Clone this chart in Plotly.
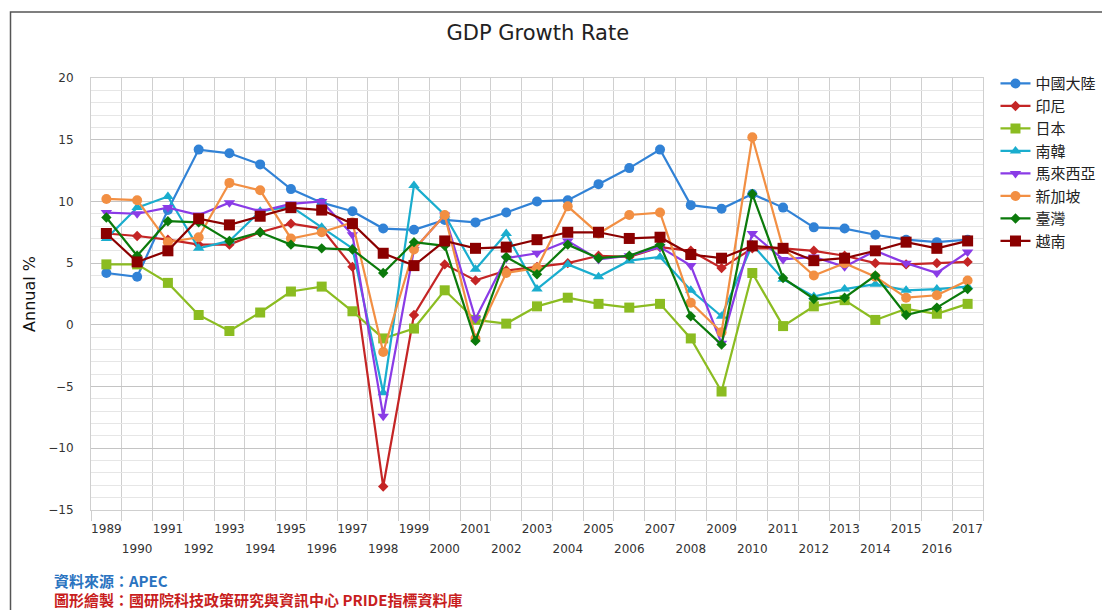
import plotly.graph_objects as go

years = list(range(1989, 2018))

china = [4.2, 3.9, 9.3, 14.2, 13.9, 13.0, 11.0, 9.9, 9.2, 7.8, 7.7, 8.5, 8.3, 9.1, 10.0, 10.1, 11.4, 12.7, 14.2, 9.7, 9.4, 10.6, 9.5, 7.9, 7.8, 7.3, 6.9, 6.7, 6.9]
indonesia = [7.4, 7.2, 6.9, 6.5, 6.5, 7.5, 8.2, 7.8, 4.7, -13.1, 0.8, 4.9, 3.6, 4.4, 4.7, 5.0, 5.6, 5.5, 6.3, 6.0, 4.6, 6.2, 6.2, 6.0, 5.6, 5.0, 4.9, 5.0, 5.1]
japan = [4.9, 4.9, 3.4, 0.8, -0.5, 1.0, 2.7, 3.1, 1.1, -1.1, -0.3, 2.8, 0.4, 0.1, 1.5, 2.2, 1.7, 1.4, 1.7, -1.1, -5.4, 4.2, -0.1, 1.5, 2.0, 0.4, 1.3, 0.9, 1.7]
korea = [7.0, 9.5, 10.4, 6.2, 6.8, 9.2, 9.6, 7.9, 6.2, -5.5, 11.3, 8.9, 4.5, 7.4, 2.9, 4.9, 3.9, 5.2, 5.5, 2.8, 0.7, 6.5, 3.7, 2.3, 2.9, 3.3, 2.8, 2.9, 3.1]
malaysia = [9.1, 9.0, 9.5, 8.9, 9.9, 9.2, 9.8, 10.0, 7.3, -7.4, 6.1, 8.9, 0.5, 5.4, 5.8, 6.8, 5.3, 5.6, 6.3, 4.8, -1.5, 7.4, 5.3, 5.5, 4.7, 6.0, 5.0, 4.2, 5.9]
singapore = [10.2, 10.1, 6.7, 7.1, 11.5, 10.9, 7.0, 7.5, 8.3, -2.2, 6.1, 8.9, -1.1, 4.2, 4.6, 9.6, 7.4, 8.9, 9.1, 1.8, -0.6, 15.2, 6.2, 4.0, 5.0, 3.9, 2.2, 2.4, 3.6]
taiwan = [8.7, 5.6, 8.4, 8.3, 6.8, 7.5, 6.5, 6.2, 6.1, 4.2, 6.7, 6.4, -1.3, 5.5, 4.1, 6.5, 5.4, 5.6, 6.5, 0.7, -1.6, 10.6, 3.8, 2.1, 2.2, 4.0, 0.8, 1.4, 2.9]
vietnam = [7.4, 5.1, 6.0, 8.6, 8.1, 8.8, 9.5, 9.3, 8.2, 5.8, 4.8, 6.8, 6.2, 6.3, 6.9, 7.5, 7.5, 7.0, 7.1, 5.7, 5.4, 6.4, 6.2, 5.2, 5.4, 6.0, 6.7, 6.2, 6.8]

series_names = ["中國大陸", "印尼", "日本", "南韓", "馬來西亞", "新加坡", "臺灣", "越南"]
series_values = [china, indonesia, japan, korea, malaysia, singapore, taiwan, vietnam]
series_colors = ["#3182d6", "#c42525", "#8bbc21", "#1aadce", "#8a3be6", "#f28f43", "#0b7a0b", "#8b0000"]
series_symbols = ["circle", "diamond", "square", "triangle-up", "triangle-down", "circle", "diamond", "square"]
series_sizes = [10, 8, 10, 10, 10, 10, 8, 11]

odd_years = [y for y in years if y % 2 == 1]
even_years = [y for y in years if y % 2 == 0]

fig = go.Figure()
for name, vals, col, sym, sz in zip(series_names, series_values, series_colors, series_symbols, series_sizes):
    fig.add_trace(go.Scatter(
        x=years, y=vals, name=name, mode="lines+markers",
        line=dict(color=col, width=2.2),
        marker=dict(color=col, symbol=sym, size=sz),
    ))

# invisible helper trace to host the second (even-year) label row
fig.add_trace(go.Scatter(x=[], y=[], xaxis="x2", showlegend=False, hoverinfo="skip"))

label_font = dict(family="DejaVu Sans", size=12, color="#333333")
grid_c = "#cfcfcf"

fig.update_layout(
    width=1102, height=610,
    margin=dict(l=91, r=119, t=78, b=100, autoexpand=False),
    paper_bgcolor="white", plot_bgcolor="white",
    title=dict(text="GDP Growth Rate", x=0.488, xref="container", xanchor="center",
               y=1 - 33 / 610, yref="container", yanchor="middle",
               font=dict(family="DejaVu Sans", size=21, color="#222222")),
    xaxis=dict(
        range=[1988.5, 2017.5], tickmode="array", tickvals=odd_years,
        ticktext=[str(y) for y in odd_years], tickfont=label_font,
        showgrid=False, ticks="", ticklabelstandoff=8,
        showline=True, linecolor=grid_c, mirror=True, zeroline=False,
        minor=dict(tickmode="linear", tick0=1988.5, dtick=1, showgrid=True,
                   gridcolor=grid_c, gridwidth=1, ticks="outside", ticklen=10,
                   tickcolor=grid_c),
    ),
    xaxis2=dict(
        range=[1988.5, 2017.5], overlaying="x", anchor="y", side="bottom",
        tickmode="array", tickvals=even_years, ticktext=[str(y) for y in even_years],
        tickfont=label_font, showgrid=False, ticks="", ticklabelstandoff=30,
        showline=False, zeroline=False,
    ),
    yaxis=dict(
        range=[-15, 20], tickmode="linear", tick0=-15, dtick=5,
        tickfont=dict(family="DejaVu Sans", size=12, color="#333333"),
        showgrid=True, gridcolor="#c4c4c4", gridwidth=1, zeroline=False,
        ticks="", ticklabelstandoff=14,
        showline=True, linecolor=grid_c, mirror=True,
        minor=dict(tickmode="linear", tick0=-15, dtick=1, showgrid=True,
                   gridcolor="#e6e6e6", gridwidth=1),
        title=dict(text="Annual %", standoff=8,
                   font=dict(family="DejaVu Sans", size=16, color="#111111")),
    ),
    legend=dict(x=1.014, xanchor="left", y=1.025, yanchor="top",
                font=dict(family="Noto Sans CJK TC", size=15, color="#222222"),
                bgcolor="rgba(0,0,0,0)", tracegroupgap=0),
    showlegend=True,
    shapes=[dict(type="rect", xref="paper", yref="paper",
                 x0=(10.5 - 91) / 892, x1=(1120 - 91) / 892,
                 y0=(510 - 640) / 432, y1=(510 - 12) / 432,
                 line=dict(color="#555555", width=1.5), fillcolor="rgba(0,0,0,0)",
                 layer="below")],
    annotations=[
        dict(text="<b>資料來源：APEC</b>", xref="paper", yref="paper",
             x=(52 - 91) / 892, y=(510 - 580) / 432, xanchor="left", yanchor="middle",
             showarrow=False, font=dict(family="Noto Sans CJK TC", size=15, color="#2a73c0")),
        dict(text="<b>圖形繪製：國研院科技政策研究與資訊中心 PRIDE指標資料庫</b>", xref="paper", yref="paper",
             x=(52 - 91) / 892, y=(510 - 599) / 432, xanchor="left", yanchor="middle",
             showarrow=False, font=dict(family="Noto Sans CJK TC", size=15, color="#c81e1e")),
    ],
)

fig.write_html("out.html")
